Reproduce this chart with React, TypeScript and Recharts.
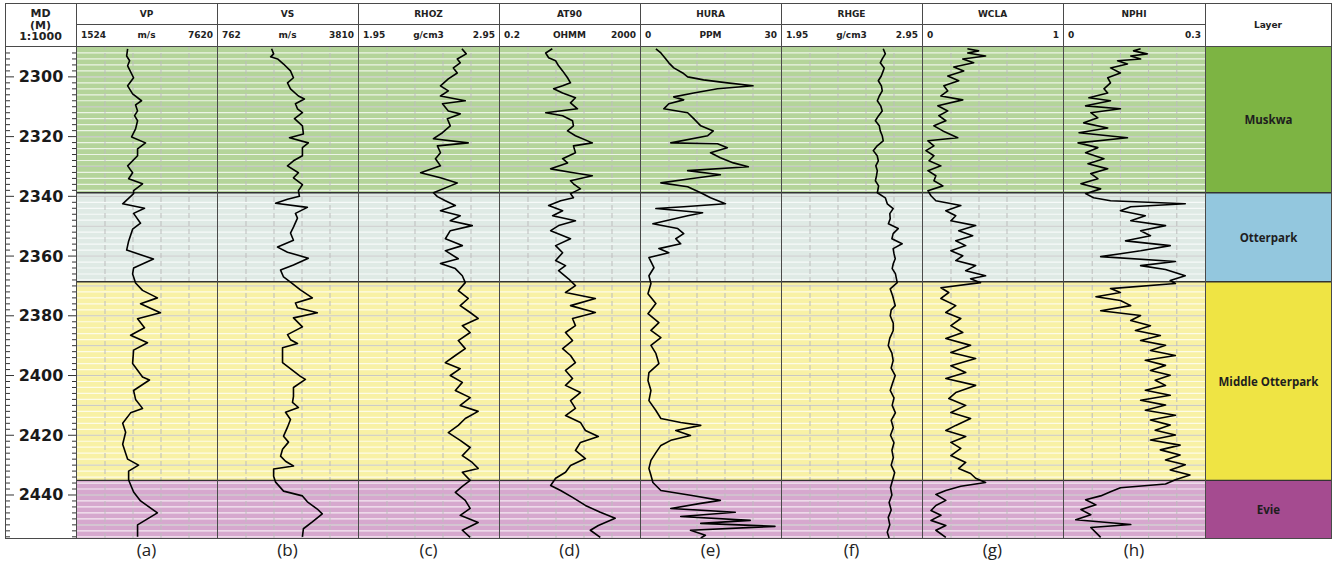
import React from 'react';
import { LineChart, Line, XAxis, YAxis, ReferenceArea, ReferenceLine } from 'recharts';

// ---- depth frame ----
const DEPTH_TOP = 2290;
const DEPTH_BOTTOM = 2454.4;

// ---- layers ----
const layerNames = ['Muskwa', 'Otterpark', 'Middle Otterpark', 'Evie'];
const layerTops = [2290, 2338.8, 2368.6, 2435.1];
const layerBottoms = [2338.8, 2368.6, 2435.1, 2454.4];
const layerBandColors = ['#b4d49a', '#dfeae5', '#f8f1a5', '#d6a8ce'];
const layerColumnColors = ['#7db443', '#93c7de', '#efe444', '#a54b90'];

// ---- axis labels ----
const depthLabels = [2300, 2320, 2340, 2360, 2380, 2400, 2420, 2440];
const trackNames = ['VP', 'VS', 'RHOZ', 'AT90', 'HURA', 'RHGE', 'WCLA', 'NPHI'];
const trackUnits = ['m/s', 'm/s', 'g/cm3', 'OHMM', 'PPM', 'g/cm3', '', ''];
const trackMinLabels = ['1524', '762', '1.95', '0.2', '0', '1.95', '0', '0'];
const trackMaxLabels = ['7620', '3810', '2.95', '2000', '30', '2.95', '1', '0.3'];
const panelLabels = ['(a)', '(b)', '(c)', '(d)', '(e)', '(f)', '(g)', '(h)'];

// ---- curves (depth in m, value in track units) ----
const vpDepth = [2290.6, 2293, 2294.6, 2296.3, 2300.3, 2303, 2305.7, 2308, 2309.4, 2311.4, 2313, 2314.7, 2317.4, 2320.1, 2322.1, 2324.1, 2326.4, 2329.8, 2332.1, 2334.1, 2335.8, 2338.1, 2339.1, 2342.5, 2344, 2345.7, 2349, 2351, 2355, 2358, 2361, 2364, 2366, 2369, 2371.5, 2374, 2376, 2379, 2381, 2384, 2386.5, 2389, 2391.5, 2396, 2400.5, 2401.5, 2405, 2408, 2411, 2412.5, 2416, 2419, 2423, 2426, 2428, 2430, 2432, 2435, 2439, 2442, 2446, 2448, 2450, 2454];
const vpValue = [3729, 3686, 3815, 3729, 3988, 3729, 3945, 4334, 4075, 4161, 4031, 4161, 4075, 3902, 4507, 4161, 4161, 3729, 3945, 3772, 4377, 3988, 3988, 3513, 4464, 3988, 4291, 3945, 3772, 3686, 4853, 3988, 3945, 4075, 4377, 5026, 4291, 5155, 4161, 4464, 3858, 4593, 3988, 3945, 4377, 4680, 3988, 4075, 4377, 3858, 3513, 3642, 3513, 3642, 3729, 4204, 3772, 3772, 3988, 4291, 5026, 4593, 4161, 4161];

const vsDepth = [2290.6, 2292.3, 2293.3, 2294, 2295.7, 2298, 2300.3, 2302, 2304, 2306.4, 2307.4, 2309, 2310.7, 2312, 2314, 2316.4, 2319.1, 2320.4, 2322.1, 2323.7, 2326.4, 2328.1, 2329.8, 2332.1, 2333.8, 2336.1, 2338.1, 2340, 2341, 2342.3, 2343.7, 2345.7, 2347.3, 2350.3, 2352.3, 2354.7, 2357, 2358.7, 2360.7, 2363, 2364.7, 2367, 2368.7, 2371.3, 2374, 2375.7, 2377.3, 2379, 2380.7, 2383.7, 2386.3, 2388, 2389.3, 2390.7, 2395.7, 2400.3, 2401.3, 2404, 2407, 2409, 2410.7, 2412.3, 2414.7, 2417.3, 2420.3, 2422.3, 2424.7, 2427, 2428.7, 2430.3, 2431.3, 2433.7, 2435.7, 2438.7, 2440.3, 2442.3, 2444.7, 2446.3, 2449, 2451.3, 2454];
const vsValue = [1929, 1973, 1908, 2059, 2189, 2340, 2405, 2275, 2340, 2513, 2643, 2448, 2492, 2600, 2427, 2600, 2621, 2319, 2729, 2600, 2600, 2405, 2275, 2513, 2405, 2600, 2513, 2535, 2275, 2016, 2708, 2448, 2492, 2405, 2340, 2405, 2059, 2275, 2729, 2405, 2124, 2189, 2340, 2556, 2816, 2448, 2492, 2924, 2405, 2600, 2275, 2340, 2492, 2167, 2167, 2556, 2665, 2405, 2405, 2384, 2513, 2232, 2340, 2275, 2189, 2297, 2167, 2124, 2232, 2405, 1973, 1973, 2016, 2189, 2600, 2708, 2924, 3032, 2816, 2621, 2600];

const rhozDepth = [2290.6, 2292.3, 2294, 2295.3, 2297, 2298.7, 2300.7, 2303, 2304.7, 2306.4, 2308, 2309, 2311.4, 2312.4, 2314, 2316.4, 2318.7, 2320.7, 2322.1, 2323.1, 2325.4, 2327.4, 2329.8, 2332.1, 2333.8, 2335.5, 2336.5, 2338.8, 2340.1, 2341.5, 2343.1, 2344.8, 2346.5, 2348.2, 2349.8, 2351.5, 2354.2, 2356.5, 2358.2, 2360.9, 2362.5, 2364.2, 2366.6, 2368.9, 2371.6, 2374.2, 2376.6, 2378.9, 2380.9, 2383.3, 2385.6, 2388.3, 2391, 2393.3, 2395.7, 2397.7, 2400, 2402.3, 2405, 2407.4, 2410, 2412, 2414.4, 2416.7, 2419.1, 2421.7, 2424.1, 2426.8, 2429.1, 2431.1, 2432.4, 2435.1, 2437.1, 2439.1, 2441.8, 2444.5, 2446.8, 2449.2, 2451.8, 2454.2];
const rhozValue = [2.685, 2.716, 2.652, 2.673, 2.624, 2.652, 2.588, 2.532, 2.588, 2.532, 2.709, 2.546, 2.588, 2.673, 2.581, 2.602, 2.546, 2.482, 2.73, 2.51, 2.532, 2.496, 2.532, 2.39, 2.532, 2.652, 2.602, 2.482, 2.51, 2.567, 2.638, 2.532, 2.673, 2.602, 2.759, 2.602, 2.567, 2.688, 2.567, 2.659, 2.532, 2.638, 2.688, 2.709, 2.659, 2.73, 2.673, 2.744, 2.801, 2.688, 2.744, 2.659, 2.709, 2.638, 2.567, 2.673, 2.602, 2.688, 2.638, 2.744, 2.673, 2.801, 2.709, 2.659, 2.588, 2.673, 2.744, 2.688, 2.759, 2.801, 2.688, 2.744, 2.688, 2.638, 2.709, 2.744, 2.673, 2.801, 2.688, 2.744];

const at90Depth = [2290.6, 2292, 2293.6, 2294.6, 2296.3, 2298, 2300.3, 2302, 2303, 2304, 2305.4, 2307, 2308.7, 2310.7, 2312, 2313, 2314.7, 2316.4, 2318.1, 2319.7, 2322.1, 2323.1, 2325.4, 2327.4, 2328.8, 2330.8, 2332.1, 2333.1, 2334.8, 2335.8, 2337.5, 2339.1, 2340.5, 2341.5, 2343.1, 2344.8, 2346.5, 2348.2, 2349.8, 2351.5, 2354.2, 2356.5, 2358.9, 2361.5, 2363.2, 2364.9, 2367.6, 2369.9, 2372.2, 2374.2, 2376.6, 2378.9, 2380.9, 2383.3, 2385.6, 2388.3, 2391, 2393.3, 2395.7, 2398.3, 2401, 2403.3, 2405.7, 2408.4, 2411, 2413.4, 2415.7, 2418.4, 2420.4, 2422.4, 2425.1, 2427.8, 2430.1, 2432.4, 2434.4, 2436.8, 2438.5, 2440.8, 2443.5, 2445.8, 2447.8, 2450.2, 2451.8, 2454.2];
const at90Value = [6.25, 4.04, 4.91, 7.76, 9.44, 12.3, 17, 20.7, 12.3, 6.81, 12.3, 28.6, 20.7, 32.7, 4.04, 12.3, 23.6, 25.1, 17, 28.6, 86.9, 25.1, 28.6, 12.3, 17, 5.6, 25.1, 86.9, 20.7, 25.1, 39.7, 20.7, 25.1, 10.8, 4.91, 12.3, 6.38, 28.6, 9.44, 5.6, 20.7, 7.76, 12.3, 7.76, 14.9, 9.44, 18.1, 28.6, 14.9, 106, 20.7, 106, 23.6, 28.6, 14.9, 23.6, 12.3, 20.7, 28.6, 14.9, 23.6, 14.9, 39.7, 20.7, 28.6, 14.9, 39.7, 55.1, 129, 39.7, 28.6, 55.1, 20.7, 14.9, 7.76, 5.6, 10.8, 23.6, 55.1, 147, 391, 129, 76.4, 147];

const huraDepth = [2290.6, 2292, 2294, 2295.3, 2297, 2298.7, 2300, 2301, 2302, 2303, 2304, 2305.4, 2306.7, 2307.7, 2309, 2310.7, 2312, 2314, 2316.4, 2318.1, 2319.7, 2322.1, 2322.4, 2323.7, 2325.4, 2327.1, 2328.8, 2330.1, 2331.4, 2332.8, 2334.1, 2335.5, 2336.8, 2338.8, 2340.5, 2342.5, 2343.5, 2344.1, 2345.5, 2346.5, 2349.2, 2350.8, 2352.5, 2354.2, 2355.9, 2357.5, 2358.9, 2360.5, 2363.9, 2366.6, 2369.2, 2372.6, 2375.9, 2379.3, 2382.3, 2384.9, 2387.3, 2389.9, 2392.6, 2396, 2399, 2401.7, 2405, 2408.4, 2411.7, 2414.4, 2415.7, 2416.7, 2418.4, 2420.1, 2421.7, 2423.4, 2425.8, 2428.4, 2431.1, 2433.4, 2435.8, 2438.5, 2440.1, 2441.8, 2442.8, 2444.5, 2445.8, 2447.2, 2448.5, 2449.5, 2450.5, 2451.8, 2453.5, 2454.4];
const huraValue = [3.19, 4.26, 5.32, 5.96, 7.02, 8.94, 10, 13.4, 18.5, 24, 16.4, 11.3, 7.02, 9.15, 5.96, 4.89, 10, 11.3, 12.8, 15.5, 14.3, 6.38, 16.4, 18.5, 14.9, 17, 19.8, 23, 10, 17, 10.6, 4.26, 10, 12.8, 14.9, 18.1, 9.15, 3.19, 13.2, 10, 2.55, 7.87, 9.15, 7.45, 8.51, 3.83, 5.96, 1.7, 2.77, 1.7, 2.13, 1.49, 3.19, 1.49, 3.83, 2.13, 4.26, 2.13, 3.19, 3.83, 1.7, 1.49, 2.13, 1.7, 3.19, 4.26, 8.51, 12.8, 7.45, 10.6, 6.38, 4.26, 3.19, 2.13, 1.7, 2.13, 2.55, 4.26, 10.6, 17, 12.8, 6.38, 20.2, 8.51, 23.4, 12.8, 28.7, 10.6, 13.8, 12.8];

const rhgeDepth = [2290.6, 2292.3, 2294, 2295.3, 2297, 2298, 2299.7, 2301.3, 2303, 2304.7, 2306.4, 2308, 2309.7, 2311.4, 2313, 2314.7, 2316.4, 2318.1, 2319.7, 2321.4, 2323.1, 2324.7, 2326.4, 2328.1, 2329.8, 2331.4, 2333.1, 2334.8, 2336.5, 2338.8, 2340.5, 2342.5, 2344.1, 2345.8, 2347.5, 2349.2, 2350.8, 2352.5, 2354.2, 2355.9, 2357.5, 2359.2, 2360.9, 2362.5, 2364.2, 2365.9, 2368.9, 2371, 2373.3, 2376.6, 2378, 2380, 2382.5, 2385, 2387.5, 2390, 2392.5, 2395, 2397.5, 2400, 2402.5, 2405, 2407.5, 2410, 2412.5, 2415, 2417.5, 2420, 2422.5, 2425, 2427.5, 2430, 2432.5, 2435, 2437.5, 2440, 2442.5, 2445, 2447.5, 2450, 2452.5, 2454.4];
const rhgeValue = [2.673, 2.688, 2.666, 2.652, 2.68, 2.673, 2.659, 2.638, 2.66, 2.666, 2.645, 2.631, 2.655, 2.666, 2.64, 2.617, 2.645, 2.652, 2.666, 2.673, 2.63, 2.602, 2.63, 2.638, 2.62, 2.631, 2.625, 2.617, 2.64, 2.631, 2.688, 2.702, 2.744, 2.72, 2.723, 2.71, 2.78, 2.744, 2.735, 2.808, 2.744, 2.75, 2.759, 2.745, 2.737, 2.76, 2.773, 2.723, 2.74, 2.759, 2.73, 2.723, 2.745, 2.744, 2.72, 2.709, 2.735, 2.744, 2.73, 2.759, 2.74, 2.723, 2.75, 2.737, 2.76, 2.73, 2.745, 2.725, 2.75, 2.735, 2.745, 2.73, 2.755, 2.74, 2.725, 2.735, 2.715, 2.73, 2.709, 2.72, 2.702, 2.715];

const wclaDepth = [2290.6, 2291.3, 2292, 2293, 2294, 2295.3, 2296.7, 2298, 2299.7, 2301.3, 2303, 2304.7, 2306.4, 2307.7, 2309.7, 2311.4, 2313, 2314.7, 2316.4, 2318.1, 2320.4, 2321.4, 2323.1, 2324.7, 2326.4, 2328.1, 2329.8, 2331.4, 2333.1, 2334.8, 2336.5, 2338.1, 2339.8, 2341.5, 2343.1, 2344.8, 2346.5, 2348.2, 2349.8, 2351.5, 2353.2, 2354.9, 2356.5, 2358.2, 2359.9, 2361.5, 2363.2, 2364.9, 2366.6, 2367.6, 2368.9, 2370.6, 2372.2, 2374.2, 2376.6, 2378.9, 2380.9, 2383.3, 2385.6, 2387.6, 2389.9, 2392.3, 2394.3, 2396.7, 2399, 2401, 2403.3, 2405.7, 2407.7, 2410, 2412.4, 2414.4, 2416.7, 2418.4, 2420.4, 2422.4, 2424.4, 2426.8, 2429.1, 2431.1, 2432.8, 2434.4, 2435.8, 2437.1, 2438.5, 2439.8, 2441.8, 2443.5, 2445.2, 2446.8, 2448.5, 2450.2, 2451.8, 2454.2];
const wclaValue = [0.317, 0.397, 0.319, 0.447, 0.284, 0.362, 0.22, 0.291, 0.177, 0.255, 0.149, 0.177, 0.128, 0.284, 0.106, 0.177, 0.113, 0.163, 0.078, 0.142, 0.248, 0.035, 0.078, 0.021, 0.078, 0.043, 0.128, 0.035, 0.092, 0.078, 0.142, 0.035, 0.057, 0.092, 0.27, 0.163, 0.234, 0.199, 0.376, 0.255, 0.355, 0.234, 0.305, 0.199, 0.284, 0.234, 0.376, 0.305, 0.447, 0.34, 0.411, 0.128, 0.184, 0.128, 0.234, 0.163, 0.27, 0.199, 0.284, 0.163, 0.34, 0.199, 0.376, 0.199, 0.305, 0.163, 0.376, 0.234, 0.184, 0.305, 0.199, 0.34, 0.234, 0.163, 0.305, 0.199, 0.27, 0.199, 0.305, 0.255, 0.34, 0.376, 0.447, 0.27, 0.163, 0.092, 0.163, 0.092, 0.057, 0.128, 0.057, 0.163, 0.092, 0.163];

const nphiDepth = [2290.6, 2291.3, 2292.3, 2293, 2294, 2294.6, 2295.7, 2297, 2298.7, 2300.3, 2302, 2304, 2305.4, 2307, 2308, 2309.7, 2310.7, 2312, 2313.7, 2315.4, 2317.1, 2318.7, 2320.4, 2322.1, 2323.7, 2325.4, 2327.4, 2329.1, 2330.8, 2332.4, 2334.1, 2335.8, 2337.5, 2339.1, 2340.5, 2341.5, 2342.5, 2343.5, 2344.8, 2346.5, 2348.2, 2349.8, 2351.5, 2353.2, 2354.9, 2356.5, 2358.2, 2359.2, 2360.2, 2361.8, 2363.2, 2364.5, 2366.6, 2368.2, 2369.2, 2370.9, 2372.2, 2373.6, 2374.9, 2376.6, 2378.3, 2379.9, 2381.6, 2383.3, 2384.9, 2386.6, 2388.3, 2389.9, 2391.6, 2393.3, 2394.9, 2396.6, 2398.3, 2399.9, 2401.6, 2403.3, 2404.9, 2406.6, 2408.3, 2409.9, 2411.6, 2413.3, 2414.9, 2416.6, 2418.3, 2419.9, 2421.6, 2423.3, 2424.9, 2426.6, 2428.3, 2429.9, 2431.6, 2433.3, 2434.9, 2436.3, 2437.6, 2438.9, 2440.3, 2441.6, 2443.3, 2444.9, 2446.6, 2448.3, 2449.9, 2450.9, 2452.6, 2454.2];
const nphiValue = [0.163, 0.148, 0.177, 0.142, 0.163, 0.114, 0.135, 0.099, 0.12, 0.093, 0.099, 0.085, 0.093, 0.053, 0.099, 0.046, 0.12, 0.057, 0.072, 0.042, 0.093, 0.032, 0.135, 0.03, 0.072, 0.046, 0.085, 0.051, 0.093, 0.057, 0.072, 0.036, 0.078, 0.046, 0.063, 0.099, 0.258, 0.142, 0.12, 0.173, 0.142, 0.216, 0.163, 0.184, 0.131, 0.226, 0.163, 0.12, 0.078, 0.237, 0.163, 0.216, 0.258, 0.226, 0.237, 0.099, 0.12, 0.068, 0.12, 0.142, 0.078, 0.163, 0.142, 0.184, 0.152, 0.205, 0.163, 0.216, 0.184, 0.237, 0.173, 0.216, 0.184, 0.226, 0.194, 0.216, 0.173, 0.226, 0.163, 0.216, 0.173, 0.237, 0.184, 0.226, 0.194, 0.237, 0.184, 0.247, 0.205, 0.247, 0.216, 0.258, 0.226, 0.268, 0.237, 0.216, 0.12, 0.099, 0.078, 0.046, 0.068, 0.036, 0.057, 0.025, 0.142, 0.057, 0.068, 0.078];

const curveDepths = [vpDepth, vsDepth, rhozDepth, at90Depth, huraDepth, rhgeDepth, wclaDepth, nphiDepth];
const curveValues = [vpValue, vsValue, rhozValue, at90Value, huraValue, rhgeValue, wclaValue, nphiValue];
const logTracks = ['AT90'];

// ---- layout ----
const COLS = [5, 76, 217, 358, 499, 640, 781, 922, 1063, 1205, 1331];
const FRAME_TOP = 3;
const HEADER_MID = 24;
const HEADER_BOTTOM = 46;
const PLOT_TOP = 47;
const PLOT_BOTTOM = 538;
const PLOT_H = PLOT_BOTTOM - PLOT_TOP;
const LINE_COLOR = '#4a4a4a';
const FONT = '"DejaVu Sans", Verdana, sans-serif';

const stripeDepths: number[] = [];
for (let d = 2292; d < DEPTH_BOTTOM; d += 2) stripeDepths.push(d);
const gridDepths = stripeDepths.filter((d) => d % 10 === 0);
const depthTicks = stripeDepths;

const margin0 = { top: 0, right: 0, bottom: 0, left: 0 };

function Track({ index, left, width }: { index: number; left: number; width: number }) {
  const depth = curveDepths[index];
  const values = curveValues[index];
  const data = depth.map((d, i) => ({ depth: d, value: values[i] }));
  const min = Number(trackMinLabels[index]);
  const max = Number(trackMaxLabels[index]);
  const isLog = logTracks.includes(trackNames[index]);
  const divisions = [1, 2, 3, 4].map((k) =>
    isLog ? min * Math.pow(max / min, k / 5) : min + ((max - min) * k) / 5
  );
  return (
    <div style={{ position: 'absolute', left, top: PLOT_TOP, width, height: PLOT_H }}>
      <LineChart width={width} height={PLOT_H} data={data} layout="vertical" margin={margin0}>
        <XAxis type="number" domain={[min, max]} scale={isLog ? 'log' : 'linear'} hide allowDataOverflow />
        <YAxis type="number" dataKey="depth" domain={[DEPTH_TOP, DEPTH_BOTTOM]} hide allowDataOverflow />
        {layerNames.map((name, i) => (
          <ReferenceArea key={name} y1={layerTops[i]} y2={layerBottoms[i]} fill={layerBandColors[i]} fillOpacity={1} stroke="none" />
        ))}
        {stripeDepths.map((d) => (
          <ReferenceLine key={'s' + d} y={d} stroke="#ffffff" strokeOpacity={0.75} strokeWidth={1.2} />
        ))}
        {gridDepths.map((d) => (
          <ReferenceLine key={'g' + d} y={d} stroke="#b0b0b0" strokeOpacity={0.7} strokeWidth={1} />
        ))}
        {divisions.map((v) => (
          <ReferenceLine key={'v' + v} x={v} stroke="#bdbdbd" strokeDasharray="5 3" strokeWidth={1} />
        ))}
        {layerTops.slice(1).map((d) => (
          <ReferenceLine key={'b' + d} y={d} stroke="#333" strokeWidth={1.3} />
        ))}
        <Line
          dataKey="value"
          type="linear"
          stroke="#000"
          strokeWidth={1.6}
          strokeLinejoin="round"
          dot={false}
          isAnimationActive={false}
        />
      </LineChart>
    </div>
  );
}

const DepthTick = (props: any) => {
  const { y, payload } = props;
  const v = payload.value;
  const major = v % 20 === 0;
  const w = COLS[1] - COLS[0] - 1;
  const len = major ? 8 : 4;
  return (
    <g>
      <line x1={0} x2={len} y1={y} y2={y} stroke="#333" strokeWidth={1} />
      <line x1={w - len} x2={w} y1={y} y2={y} stroke="#333" strokeWidth={1} />
      {major && depthLabels.includes(v) ? (
        <text x={w / 2} y={y} textAnchor="middle" dominantBaseline="central" fontFamily={FONT} fontWeight={700} fontSize={16} fill="#1a1a1a">
          {v}
        </text>
      ) : null}
    </g>
  );
};

function DepthColumn() {
  const width = COLS[1] - COLS[0] - 1;
  return (
    <div style={{ position: 'absolute', left: COLS[0] + 1, top: PLOT_TOP, width, height: PLOT_H }}>
      <LineChart width={width} height={PLOT_H} data={depthLabels.map((d) => ({ depth: d }))} layout="vertical" margin={margin0}>
        <XAxis type="number" domain={[0, 1]} hide allowDataOverflow />
        <YAxis
          type="number"
          dataKey="depth"
          domain={[DEPTH_TOP, DEPTH_BOTTOM]}
          allowDataOverflow
          mirror
          width={1}
          ticks={depthTicks}
          interval={0}
          axisLine={false}
          tickLine={false}
          tick={(p: any) => <DepthTick {...p} />}
        />
      </LineChart>
    </div>
  );
}

const LayerLabel = (props: any) => {
  const { viewBox, text } = props;
  const { x, y, width, height } = viewBox;
  return (
    <text x={x + width / 2} y={y + height / 2} textAnchor="middle" dominantBaseline="central" fontFamily='"Open Sans", sans-serif' fontWeight={700} fontSize={11.5} fill="#1e1e1e">
      {text}
    </text>
  );
};

function LayerColumn() {
  const left = COLS[9] + 1;
  const width = COLS[10] - COLS[9] - 1;
  const data = layerTops.map((d) => ({ depth: d, value: 0.5 }));
  return (
    <div style={{ position: 'absolute', left, top: PLOT_TOP, width, height: PLOT_H }}>
      <LineChart width={width} height={PLOT_H} data={data} layout="vertical" margin={margin0}>
        <XAxis type="number" domain={[0, 1]} hide allowDataOverflow />
        <YAxis type="number" dataKey="depth" domain={[DEPTH_TOP, DEPTH_BOTTOM]} hide allowDataOverflow />
        {layerNames.map((name, i) => (
          <ReferenceArea
            key={name}
            y1={layerTops[i]}
            y2={layerBottoms[i]}
            x1={0}
            x2={1}
            fill={layerColumnColors[i]}
            fillOpacity={1}
            stroke="none"
            label={<LayerLabel text={name} />}
          />
        ))}
        {layerTops.slice(1).map((d) => (
          <ReferenceLine key={'b' + d} y={d} stroke="#333" strokeWidth={1.3} />
        ))}
        <Line dataKey="value" stroke="none" dot={false} isAnimationActive={false} />
      </LineChart>
    </div>
  );
}

const hdrText: React.CSSProperties = {
  position: 'absolute',
  fontFamily: FONT,
  fontWeight: 700,
  fontSize: 9,
  color: '#222',
  whiteSpace: 'nowrap',
  lineHeight: '12px',
};

function TrackHeader({ index }: { index: number }) {
  const left = COLS[index + 1];
  const width = COLS[index + 2] - left;
  const unitTop = HEADER_MID + (HEADER_BOTTOM - HEADER_MID) / 2 - 6;
  return (
    <>
      <div style={{ ...hdrText, left, width, top: FRAME_TOP + (HEADER_MID - FRAME_TOP) / 2 - 6, textAlign: 'center' }}>
        {trackNames[index]}
      </div>
      <div style={{ ...hdrText, left: left + 5, top: unitTop }}>{trackMinLabels[index]}</div>
      <div style={{ ...hdrText, left, width, top: unitTop, textAlign: 'center' }}>{trackUnits[index]}</div>
      <div style={{ ...hdrText, left: left, width: width - 4, top: unitTop, textAlign: 'right' }}>{trackMaxLabels[index]}</div>
    </>
  );
}

const hLine = (x1: number, x2: number, y: number, key: string) => (
  <div key={key} style={{ position: 'absolute', left: x1, top: y, width: x2 - x1 + 1, height: 1, background: LINE_COLOR }} />
);
const vLine = (x: number, y1: number, y2: number, key: string) => (
  <div key={key} style={{ position: 'absolute', left: x, top: y1, width: 1, height: y2 - y1 + 1, background: LINE_COLOR }} />
);

export default function App() {
  return (
    <div style={{ position: 'absolute', left: 0, top: 0, width: 1337, height: 561, background: '#fff', overflow: 'hidden' }}>
      <DepthColumn />
      {trackNames.map((n, i) => (
        <Track key={n} index={i} left={COLS[i + 1] + 1} width={COLS[i + 2] - COLS[i + 1] - 1} />
      ))}
      <LayerColumn />

      {/* headers */}
      <div style={{ ...hdrText, fontSize: 11, lineHeight: '11.5px', left: COLS[0], width: COLS[1] - COLS[0], top: 8, textAlign: 'center' }}>
        MD<br />(M)<br />1:1000
      </div>
      {trackNames.map((n, i) => (
        <TrackHeader key={n} index={i} />
      ))}
      <div style={{ ...hdrText, left: COLS[9], width: COLS[10] - COLS[9], top: 19, textAlign: 'center' }}>Layer</div>

      {/* frame lines */}
      {hLine(COLS[0], COLS[10], FRAME_TOP, 'top')}
      {hLine(COLS[1], COLS[9], HEADER_MID, 'mid')}
      {hLine(COLS[0], COLS[10], HEADER_BOTTOM, 'hb')}
      {hLine(COLS[0], COLS[10], PLOT_BOTTOM, 'bot')}
      {COLS.map((x, i) => vLine(x, FRAME_TOP, PLOT_BOTTOM, 'v' + i))}

      {/* panel labels */}
      {panelLabels.map((l, i) => (
        <div
          key={l}
          style={{
            position: 'absolute',
            left: COLS[i + 1],
            width: COLS[i + 2] - COLS[i + 1],
            top: 539,
            textAlign: 'center',
            fontFamily: '"Open Sans", sans-serif',
            fontSize: 17,
            lineHeight: '22px',
            color: '#222',
          }}
        >
          {l}
        </div>
      ))}
    </div>
  );
}
